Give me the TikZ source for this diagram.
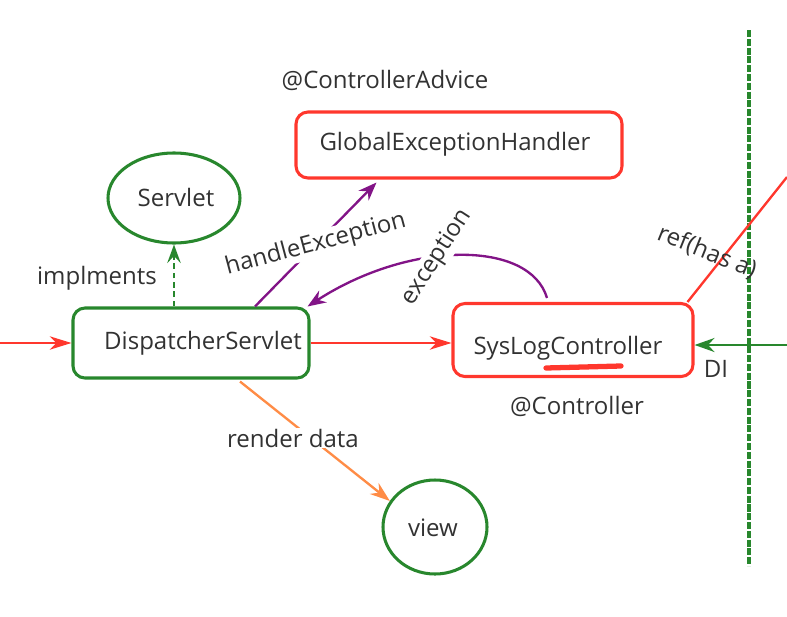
\documentclass[tikz,border=0pt]{standalone}
\usepackage{fontspec}
\setmainfont{Open Sans}
\usetikzlibrary{arrows.meta,shapes.geometric,calc}
\definecolor{gr}{RGB}{40,135,45}
\definecolor{rd}{RGB}{255,55,45}
\definecolor{pu}{RGB}{130,20,135}
\definecolor{orr}{RGB}{255,140,70}
\definecolor{tx}{RGB}{50,50,50}
\tikzset{
  lbl/.style={font=\fontsize{20.5}{24}\selectfont, text=tx, inner sep=1pt},
  gbox/.style={draw=gr, line width=2.6pt, rounded corners=0.36cm, minimum width=7.08cm, minimum height=2.1cm},
  rbox/.style={draw=rd, line width=2.6pt, rounded corners=0.36cm},
  gell/.style={draw=gr, line width=2.6pt, ellipse, inner sep=0pt},
  redarr/.style={draw=rd, line width=2pt, -{Stealth[length=0.65cm,width=0.4cm,inset=0.2cm]}},
  grarr/.style={draw=gr, line width=2.4pt, -{Stealth[length=0.6cm,width=0.42cm,inset=0.2cm]}},
  purarr/.style={draw=pu, line width=2pt, -{Stealth[length=0.55cm,width=0.42cm,inset=0.18cm]}},
  orarr/.style={draw=orr, line width=2pt, -{Stealth[length=0.6cm,width=0.42cm,inset=0.2cm]}},
}
\begin{document}
\begin{tikzpicture}[x=0.03cm,y=-0.03cm]
\useasboundingbox (0,0) rectangle (787,616);
% boxes
\node[gbox] (ds) at (191,343) {};
\node[lbl] at (203,343) {DispatcherServlet};
\node[rbox, minimum width=7.2cm, minimum height=2.19cm] (slc) at (573,340) {};
\node[lbl] at (568,348) {SysLogController};
\node[rbox, minimum width=9.78cm, minimum height=1.98cm] (gex) at (459,145) {};
\node[lbl] at (455,144) {GlobalExceptionHandler};
\node[gell, minimum width=3.96cm, minimum height=2.7cm] (servlet) at (174,198) {};
\node[lbl] at (176,197) {Servlet};
\node[gell, minimum width=3.12cm, minimum height=2.82cm] (view) at (435,527) {};
\node[lbl] at (433,528) {view};
% annotations
\node[lbl] (adv) at (385,80) {@ControllerAdvice};
\node[lbl] (ctl) at (577,406) {@Controller};
% red underline
\draw[rd, line width=4.5pt, line cap=round] (546,368) -- (621,366);
% dashed vertical
\coordinate (vt) at (749,30);
\coordinate (vb) at (749,566);
\draw[gr, line width=3pt, dash pattern=on 6pt off 1.5pt] (vt) -- (vb);
% incoming
\coordinate (inL) at (0,343);
\draw[redarr] (inL) -- (ds.west);
\draw[redarr] (ds.east) -- (ds.east -| slc.west);
% DI
\coordinate (diR) at (787,345);
\draw[grarr] (diR) -- (diR -| slc.east);
\node[lbl] at (716,369) {DI};
% ref
\coordinate (refR) at (787,177);
\draw[rd, line width=2pt] ($(slc.north east)+(-7,0)$) -- (refR);
\node[lbl, rotate=-22] at (707,252) {ref(has a)};
% implements
\draw[gr, line width=2pt, dash pattern=on 5pt off 3pt, -{Stealth[length=0.55cm,width=0.4cm,inset=0.2cm]}] (servlet.south |- ds.north) -- (servlet.south);
\node[lbl] at (97,278) {implments};
% handleException
\draw[purarr] ($(ds.north)+(64,0)$) -- ($(gex.south west)+(82,3)$)
  node[pos=0.5, lbl, fill=white, rotate=15] {handleException};
% exception
\draw[purarr] ($(slc.north)+(-26,-4)$) .. controls (530,240) and (410,240) .. ($(ds.north east)+(-3,0)$)
  node[pos=0.58, lbl, fill=white, rotate=57] {exception};
% render data
\draw[orarr] ($(ds.south)+(49,2)$) -- (view.150);
\node[lbl, fill=white] at (293,438) {render data};
\end{tikzpicture}
\end{document}
